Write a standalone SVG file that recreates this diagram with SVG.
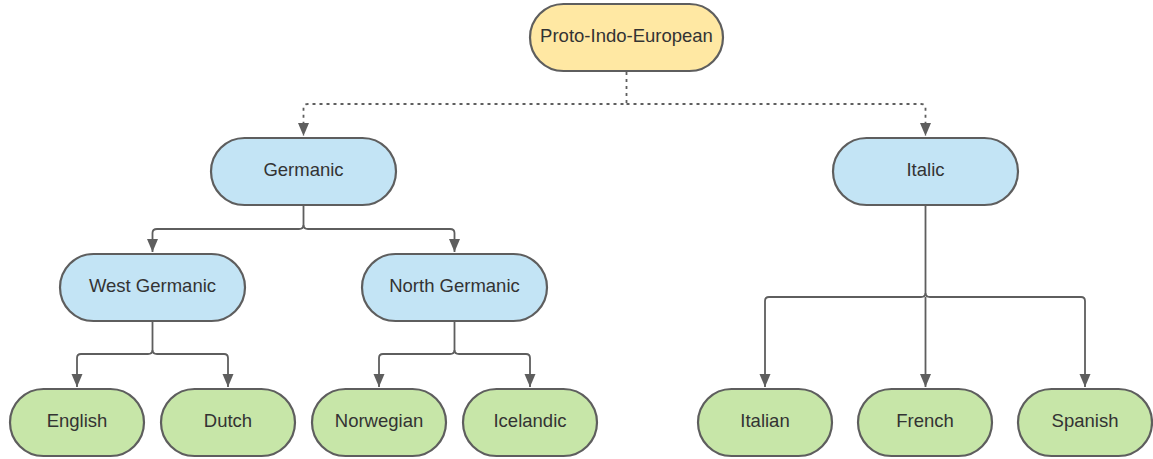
<svg xmlns="http://www.w3.org/2000/svg" width="1153" height="459" viewBox="0 0 1153 459">
<style>
.n rect{stroke:#5e5e5e;stroke-width:2.2}
.y{fill:#ffe8a3}.b{fill:#c3e4f5}.g{fill:#c7e6a8}
text{font-family:"Liberation Sans",Arial,sans-serif;font-size:18.5px;fill:#333;text-anchor:middle;dominant-baseline:central}
.c path{fill:none;stroke:#5e5e5e;stroke-width:1.8}
.c .d{stroke-dasharray:3 4}
</style>
<defs>
<marker id="a" markerUnits="userSpaceOnUse" markerWidth="14" markerHeight="12" refX="13" refY="5.5" orient="auto">
<path d="M0,0 L13,5.5 L0,11 z" fill="#5e5e5e"/>
</marker>
</defs>
<g class="c">
<path class="d" d="M626.5,72 V104 H308 Q303.5,104 303.5,108 V136" marker-end="url(#a)"/>
<path class="d" d="M626.5,104 H921 Q925.5,104 925.5,108 V136" marker-end="url(#a)"/>
<path d="M303.5,206 V225 Q303.5,229 299,229 H157 Q152.5,229 152.5,233 V252" marker-end="url(#a)"/>
<path d="M303.5,225 Q303.5,229 308,229 H450 Q454.5,229 454.5,233 V252" marker-end="url(#a)"/>
<path d="M152.5,322 V350 Q152.5,354 148,354 H81 Q77,354 77,358 V387" marker-end="url(#a)"/>
<path d="M152.5,350 Q152.5,354 157,354 H224 Q228,354 228,358 V387" marker-end="url(#a)"/>
<path d="M454.5,322 V350 Q454.5,354 450,354 H383 Q379,354 379,358 V387" marker-end="url(#a)"/>
<path d="M454.5,350 Q454.5,354 459,354 H526 Q530,354 530,358 V387" marker-end="url(#a)"/>
<path d="M925.5,206 V293 Q925.5,297 921,297 H769 Q765,297 765,301 V387" marker-end="url(#a)"/>
<path d="M925.5,293 Q925.5,297 930,297 H1081 Q1085,297 1085,301 V387" marker-end="url(#a)"/>
<path d="M925.5,297 V387" marker-end="url(#a)"/>
</g>
<g id="pie" class="n"><rect class="y" x="530" y="4" width="193" height="67" rx="33.5"/><text x="626.5" y="35.5">Proto-Indo-European</text></g>
<g id="germanic" class="n"><rect class="b" x="211" y="138" width="185" height="67" rx="33.5"/><text x="303.5" y="169.5">Germanic</text></g>
<g id="italic" class="n"><rect class="b" x="833" y="138" width="185" height="67" rx="33.5"/><text x="925.5" y="169.5">Italic</text></g>
<g id="westgermanic" class="n"><rect class="b" x="60" y="254" width="185" height="67" rx="33.5"/><text x="152.5" y="285.5">West Germanic</text></g>
<g id="northgermanic" class="n"><rect class="b" x="362" y="254" width="185" height="67" rx="33.5"/><text x="454.5" y="285.5">North Germanic</text></g>
<g id="english" class="n"><rect class="g" x="10" y="389" width="134" height="67" rx="33.5"/><text x="77" y="420.5">English</text></g>
<g id="dutch" class="n"><rect class="g" x="161" y="389" width="134" height="67" rx="33.5"/><text x="228" y="420.5">Dutch</text></g>
<g id="norwegian" class="n"><rect class="g" x="312" y="389" width="134" height="67" rx="33.5"/><text x="379" y="420.5">Norwegian</text></g>
<g id="icelandic" class="n"><rect class="g" x="463" y="389" width="134" height="67" rx="33.5"/><text x="530" y="420.5">Icelandic</text></g>
<g id="italian" class="n"><rect class="g" x="698" y="389" width="134" height="67" rx="33.5"/><text x="765" y="420.5">Italian</text></g>
<g id="french" class="n"><rect class="g" x="858" y="389" width="134" height="67" rx="33.5"/><text x="925" y="420.5">French</text></g>
<g id="spanish" class="n"><rect class="g" x="1018" y="389" width="134" height="67" rx="33.5"/><text x="1085" y="420.5">Spanish</text></g>
</svg>
